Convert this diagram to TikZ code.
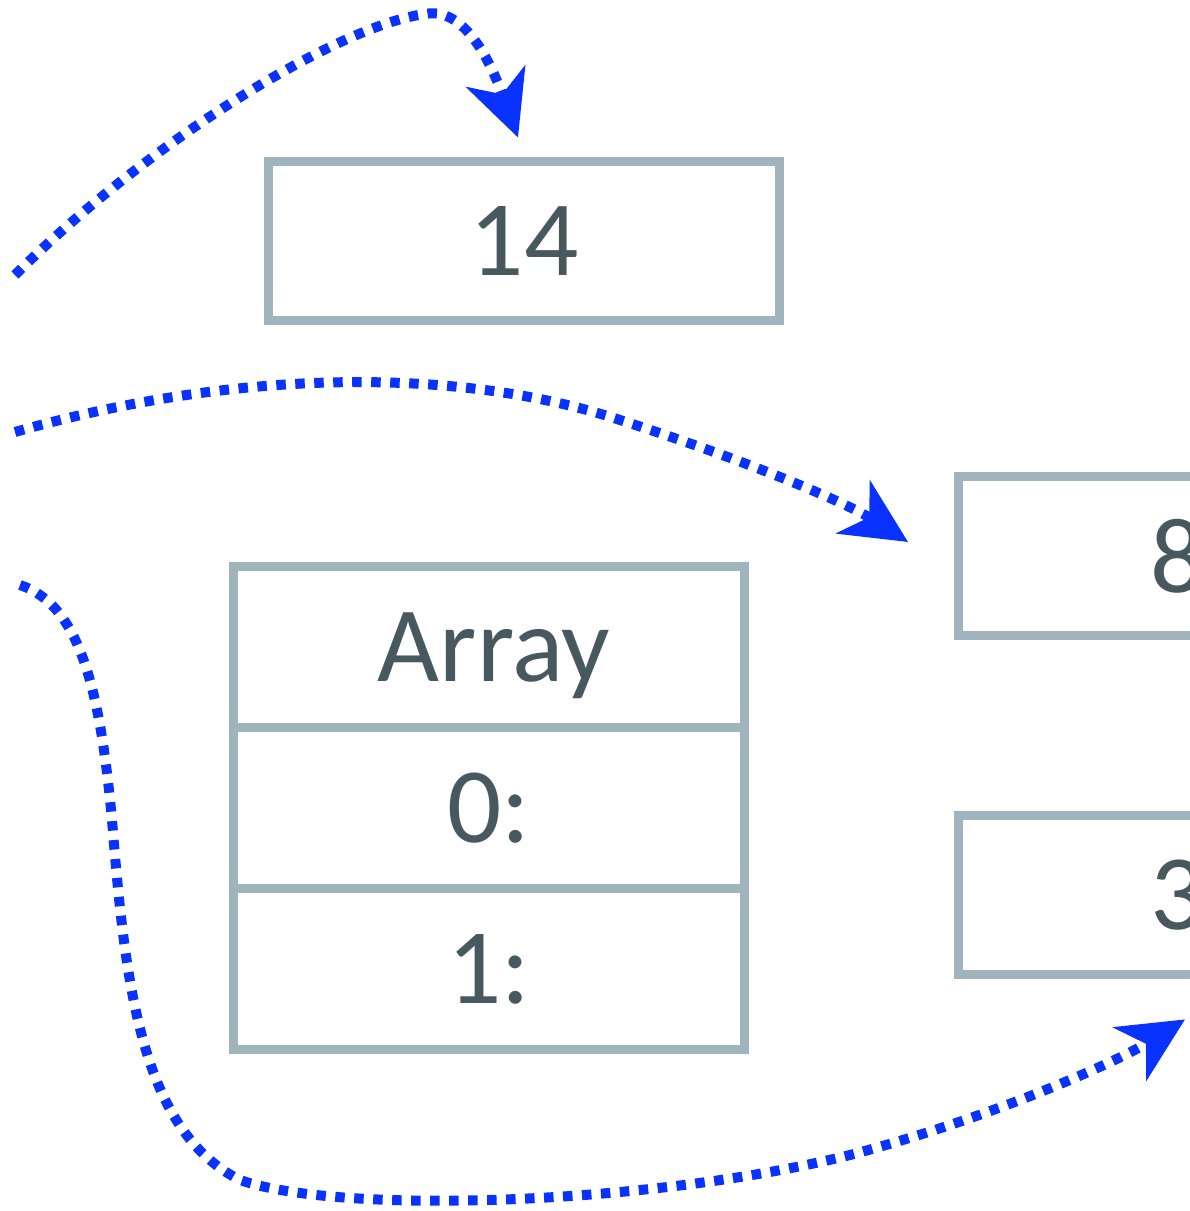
\documentclass[tikz,border=0pt]{standalone}
\usepackage{fontspec}
\setmainfont{Carlito}
\usetikzlibrary{arrows.meta,positioning}
\definecolor{boxgray}{HTML}{A0B4BE}
\definecolor{textdark}{HTML}{48585F}
\definecolor{linkblue}{HTML}{0A32FF}
\tikzset{
  valbox/.style={
    draw=boxgray,
    fill=white,
    line width=0.18cm,
    minimum width=10.24cm,
    minimum height=3.18cm,
    inner sep=0pt,
    outer sep=0pt,
    text=textdark,
    text depth=0pt,
    font=\fontsize{61}{70}\selectfont
  },
  cell/.style={
    valbox,
    minimum width=10.22cm,
    minimum height=3.22cm
  },
  reflink/.style={
    -{Stealth[length=1.3cm,width=1.25cm,inset=0.38cm]},
    draw=linkblue,
    line width=0.2cm,
    dash pattern=on 0.19cm off 0.19cm
  }
}

\begin{document}
\begin{tikzpicture}[x=0.02cm, y=-0.02cm]
  \useasboundingbox (0,0) rectangle (1190,1211);
  \clip (0,0) rectangle (1190,1211);

  \node[valbox] (n14) at (524,241) {14};
  \node[valbox, minimum width=8.8cm] (n8) at (1178,556) {8};
  \node[valbox, minimum width=8.8cm, below=3.6cm of n8] (n3) {3};

  \node[cell] (head) at (489,647) {\hspace{0.2cm}Array};
  \node[cell, below=0pt of head] (slot0) {0:};
  \node[cell, below=0pt of slot0] (slot1) {1:};

  \coordinate (src14) at (15,275);
  \coordinate (src8) at (15,432);
  \coordinate (src3) at (20,585);
  \coordinate (e14) at ([xshift=-0.12cm,yshift=0.48cm]n14.north);
  \coordinate (e8) at ([xshift=-1cm,yshift=0.28cm]n8.west);
  \coordinate (e3) at ([xshift=0.14cm,yshift=-0.9cm]n3.south);

  \draw[reflink] (src14) .. controls (150,140) and (340,25) .. (425,14)
    .. controls (470,5) and (497,80) .. (e14);
  \draw[reflink] (src8) .. controls (250,365) and (470,370) .. (620,420)
    .. controls (760,465) and (850,505) .. (e8);
  \draw[reflink] (src3) .. controls (80,605) and (100,690) .. (112,820)
    .. controls (125,980) and (140,1130) .. (240,1180)
    .. controls (340,1215) and (650,1205) .. (850,1155)
    .. controls (1000,1115) and (1120,1060) .. (e3);
\end{tikzpicture}
\end{document}
